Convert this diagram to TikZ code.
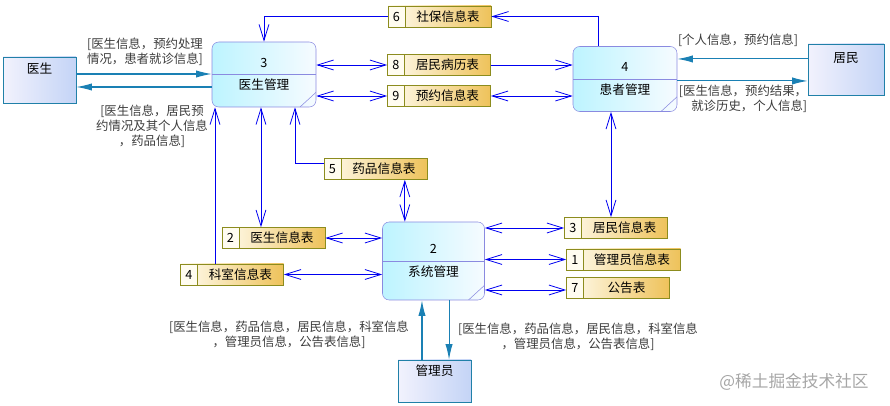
\documentclass[tikz,border=0pt]{standalone}
\usepackage{fontspec}
\setmainfont{Noto Sans CJK SC}
\usetikzlibrary{arrows.meta,positioning}
\definecolor{FlowBlue}{HTML}{0000F0}
\definecolor{ExtTeal}{HTML}{1A80B4}
\definecolor{EntLine}{HTML}{2080A8}
\definecolor{EntLight}{HTML}{F2F2FD}
\definecolor{EntBlue}{HTML}{C4D4F6}
\definecolor{ProcLine}{HTML}{8A8AE0}
\definecolor{ProcCyan}{HTML}{BDF4FF}
\definecolor{ProcWhite}{HTML}{F6FBFF}
\definecolor{StoreLine}{HTML}{8C8C1E}
\definecolor{StoreCell}{HTML}{FFFCF0}
\definecolor{StoreGold}{HTML}{EEC25A}
\definecolor{LabelGray}{HTML}{3C3C3C}
\newcommand{\stub}[3][64.5pt]{\makebox[12.75pt]{#2}\makebox[#1]{#3}}

\begin{document}
\begin{tikzpicture}[
    x=0.75pt, y=-0.75pt,
    >={Straight Barb[length=4.2mm,width=2.6mm]},
    entity/.style={draw=EntLine, left color=EntLight, right color=EntBlue, minimum width=54.75pt, minimum height=34.5pt, inner sep=0pt, text height=7pt, text depth=17pt, font=\fontsize{9.5pt}{11pt}\selectfont},
    process/.style={draw=ProcLine, left color=ProcCyan, right color=ProcWhite, rounded corners=5pt, minimum width=78pt, minimum height=48.75pt, inner sep=0pt, align=center, font=\fontsize{9.5pt}{17pt}\selectfont,
      path picture={
        \draw[ProcLine] (path picture bounding box.west) -- (path picture bounding box.east);
        \draw[ProcLine] ([xshift=-12pt]path picture bounding box.south east) -- ([yshift=11pt]path picture bounding box.south east);}},
    store/.style={draw=StoreLine, left color=StoreCell, right color=StoreGold, minimum height=15.75pt, inner sep=0pt, font=\fontsize{9.5pt}{11pt}\selectfont,
      path picture={
        \fill[StoreCell] (path picture bounding box.north west) rectangle ([xshift=12.75pt]path picture bounding box.south west);
        \draw[StoreLine] ([xshift=12.75pt]path picture bounding box.north west) -- ([xshift=12.75pt]path picture bounding box.south west);}},
    flow/.style={<->, FlowBlue, line width=0.6pt},
    feed/.style={->, FlowBlue, line width=0.6pt},
    ext/.style={-{Latex[length=4.1mm,width=1.9mm]}, ExtTeal, line width=0.8pt},
    note/.style={font=\fontsize{9.3pt}{11.25pt}\selectfont, text=LabelGray, align=center, inner sep=0pt}
  ]
    \useasboundingbox (0,0) rectangle (890,406);

    % outside entities
    \node[entity] (doctor) at (39.5,80) {医生};
    \node[entity, minimum width=57pt, minimum height=38.25pt] (resident) at (846,69.5) {居民};
    \node[entity, minimum height=31.5pt, text depth=15pt] (admin) at (434.5,381) {管理员};

    % processes
    \node[process] (p3) at (264,74.5) {3\\医生管理};
    \node[process] (p4) at (625,79) {4\\患者管理};
    \node[process, minimum width=76.5pt, minimum height=58.5pt] (p2) at (433.5,261) {2\\系统管理};

    % data stores
    \node[store] (s6) at (439.5,16.5) {\stub{6}{社保信息表}};
    \node[store] (s8) at (439,65) {\stub{8}{居民病历表}};
    \node[store] (s9) at (439,96) {\stub{9}{预约信息表}};
    \node[store] (s5) at (375.5,169) {\stub{5}{药品信息表}};
    \node[store] (s2) at (273.5,238) {\stub{2}{医生信息表}};
    \node[store] (s4) at (232,274.5) {\stub{4}{科室信息表}};
    \node[store] (s3) at (616,228) {\stub{3}{居民信息表}};
    \node[store] (s1) at (623.5,259.5) {\stub[72.75pt]{1}{管理员信息表}};
    \node[store] (s7) at (618,288) {\stub{7}{公告表}};

    % entity flows
    \draw[ext] ([yshift=4.5pt]doctor.east) -- ([yshift=4.5pt]doctor.east -| p3.west);
    \draw[ext] ([yshift=-5.25pt]doctor.east -| p3.west) -- ([yshift=-5.25pt]doctor.east);
    \draw[ext] ([yshift=7.9pt]resident.west) -- ([yshift=7.9pt]resident.west -| p4.east);
    \draw[ext] ([yshift=-8.6pt]resident.west -| p4.east) -- ([yshift=-8.6pt]resident.west);
    \draw[ext] ([xshift=-9.4pt]admin.north) -- ([xshift=-9.4pt]admin.north |- p2.south);
    \draw[ext] ([xshift=10.9pt]admin.north |- p2.south) -- ([xshift=10.9pt]admin.north);

    % store flows
    \draw[feed] ([xshift=-20.25pt]p4.north) |- (s6.east);
    \draw[feed] (s6.west) -| (p3.north);
    \draw[flow] (s8.west -| p3.east) -- (s8.west);
    \draw[feed] (s8.east) -- (s8.east -| p4.west);
    \draw[flow] (s9.west -| p3.east) -- (s9.west);
    \draw[flow] (s9.east) -- (s9.east -| p4.west);
    \draw[feed] ([yshift=4.5pt]s5.west) -| ([xshift=23.25pt]p3.south);
    \draw[flow] ([xshift=22pt]s5.south) -- ([xshift=22pt]s5.south |- p2.north);
    \draw[flow] ([xshift=-9.4pt]s2.north |- p3.south) -- ([xshift=-9.4pt]s2.north);
    \draw[flow] (s2.east) -- (s2.east -| p2.west);
    \draw[feed] ([xshift=-12.75pt]s4.north) -- ([xshift=-12.75pt]s4.north |- p3.south);
    \draw[flow] (s4.east) -- (s4.east -| p2.west);
    \draw[flow] (s3.west -| p2.east) -- (s3.west);
    \draw[flow] ([xshift=-3.75pt]s3.north) -- ([xshift=-3.75pt]s3.north |- p4.south);
    \draw[flow] (s1.west -| p2.east) -- (s1.west);
    \draw[flow] ([yshift=-1.5pt]s7.west -| p2.east) -- ([yshift=-1.5pt]s7.west);

    % labels
    \node[note] (lblA) at (145,52) {[医生信息，预约处理\\情况，患者就诊信息]};
    \node[note] (lblB) at (152,126) {[医生信息，居民预\\约情况及其个人信息\\，药品信息]};
    \node[note] (lblC) at (738,40) {[个人信息，预约信息]};
    \node[note, align=right] (lblD) at (743,99) {[医生信息，预约结果，\\就诊历史，个人信息]};
    \node[note] (lblE) at (289,335) {[医生信息，药品信息，居民信息，科室信息\\，管理员信息，公告表信息]};
    \node[note] (lblF) at (578,337) {[医生信息，药品信息，居民信息，科室信息\\，管理员信息，公告表信息]};
    \node[font=\fontsize{12.5pt}{14pt}\selectfont, text=black!35, inner sep=0pt] (mark) at (794,382) {@稀土掘金技术社区};
  \end{tikzpicture}
\end{document}
